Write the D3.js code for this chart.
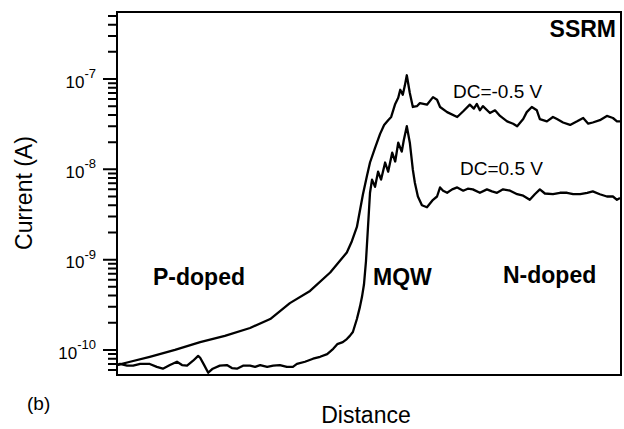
<!DOCTYPE html>
<html>
<head>
<meta charset="utf-8">
<script src="https://cdn.jsdelivr.net/npm/d3@7"></script>
<style>
    body { margin: 0; background: #fff; }
    text { font-family: "Liberation Sans", Arial, Helvetica, sans-serif; fill: #000; }
</style>
</head>
<body>
<script>
// DC=-0.5 V trace (distance in arbitrary units, current in A)
var distNeg = [0, 2.6, 6.5, 11.5, 16.5, 21.4, 26.4, 30.4, 34.3, 38.3, 42.3, 45.6, 46.6, 47.6, 48.8, 49.6,
    50.2, 51.2, 52.2, 53.0, 53.8, 54.4, 55.2, 55.8, 56.2, 56.7, 57.1, 57.5, 58.1, 58.7, 59.5, 60.1,
    61.5, 62.7, 63.5, 64.1, 65.5, 67.5, 68.7, 70.0, 70.8, 71.4, 72.0, 72.6, 74.0, 75.0, 76.0, 77.4,
    78.6, 79.4, 80.6, 81.3, 82.3, 83.3, 83.9, 85.3, 86.5, 87.3, 88.5, 89.9, 91.3, 92.5, 93.5, 94.4,
    95.8, 97.2, 98.4, 99.2, 99.8];
var currNeg = [6.8e-11, 7.4e-11, 8.4e-11, 1.0e-10, 1.22e-10, 1.43e-10, 1.75e-10, 2.2e-10, 3.3e-10, 4.5e-10,
    7.2e-10, 1.2e-9, 1.6e-9, 2.3e-9, 5.3e-9, 8.5e-9,
    1.19e-8, 1.73e-8, 2.47e-8, 3.1e-8, 3.5e-8, 3.8e-8, 5.3e-8, 6.2e-8, 7.6e-8, 6.7e-8, 8.4e-8, 1.1e-7,
    7.0e-8, 4.9e-8, 5.0e-8, 5.4e-8,
    5.2e-8, 6.3e-8, 5.9e-8, 4.9e-8, 4.3e-8, 3.8e-8, 4.4e-8, 5.2e-8, 4.7e-8, 5.3e-8, 4.5e-8, 5.0e-8,
    4.2e-8, 4.5e-8, 3.9e-8, 3.4e-8,
    3.2e-8, 3.0e-8, 3.6e-8, 4.3e-8, 4.9e-8, 4.5e-8, 3.6e-8, 3.4e-8, 3.8e-8, 3.6e-8, 3.3e-8, 3.1e-8,
    3.4e-8, 3.7e-8, 3.2e-8, 3.3e-8,
    3.5e-8, 3.9e-8, 3.7e-8, 3.4e-8, 3.4e-8];

// DC=0.5 V trace
var distPos = [0, 0.6, 2.0, 3.2, 4.6, 6.5, 7.9, 9.1, 10.5, 11.9, 12.9, 13.9, 15.1, 16.1, 16.5, 17.3,
    18.1, 19.0, 20.4, 21.8, 22.8, 23.8, 25.0, 26.4, 27.4, 28.4, 29.8, 31.0, 32.3, 33.7, 34.9, 35.7,
    37.3, 38.9, 40.3, 41.7, 42.9, 43.7, 44.8, 45.6, 46.2, 46.8, 47.6, 48.2, 48.6, 49.0, 49.4, 49.8,
    50.2, 50.6, 51.2, 51.8, 52.4, 53.2, 53.8, 54.6, 55.2, 55.8, 56.5, 56.9, 57.5, 58.1, 58.7, 59.1,
    59.7, 60.5, 61.5, 62.7, 63.5, 64.1, 64.7, 65.5, 66.5, 67.5, 68.7, 69.6, 70.6, 72.0, 73.4, 74.4,
    75.4, 76.6, 78.0, 79.4, 80.6, 81.9, 82.9, 83.9, 84.9, 86.5, 87.9, 89.3, 90.5, 91.9, 93.3, 94.4,
    95.8, 97.2, 98.4, 99.2, 99.8];
var currPos = [6.8e-11, 7.0e-11, 6.7e-11, 6.7e-11, 7.0e-11, 7.0e-11, 6.5e-11, 6.2e-11, 6.8e-11, 7.4e-11,
    6.8e-11, 6.7e-11, 7.6e-11, 8.6e-11, 8.2e-11, 6.8e-11,
    5.6e-11, 6.2e-11, 6.7e-11, 6.8e-11, 6.3e-11, 6.2e-11, 6.7e-11, 6.7e-11, 6.5e-11, 6.8e-11, 6.5e-11,
    6.7e-11, 6.8e-11, 6.5e-11, 6.5e-11, 7.0e-11,
    7.4e-11, 8.0e-11, 8.4e-11, 9.0e-11, 1.03e-10, 1.16e-10, 1.22e-10, 1.32e-10, 1.43e-10, 1.58e-10,
    2.2e-10, 3.0e-10, 3.85e-10, 5.3e-10, 9.6e-10, 2.3e-9,
    5.5e-9, 7.7e-9, 6.4e-9, 9.4e-9, 7.7e-9, 1.19e-8, 9.4e-9, 1.53e-8, 1.22e-8, 1.97e-8, 1.57e-8, 2.1e-8,
    3.0e-8, 1.97e-8, 9.9e-9, 7.1e-9,
    5.0e-9, 4.0e-9, 3.8e-9, 4.6e-9, 5.0e-9, 6.3e-9, 5.8e-9, 5.5e-9, 6.0e-9, 6.3e-9, 5.8e-9, 6.1e-9,
    6.0e-9, 5.5e-9, 6.0e-9, 5.7e-9,
    5.5e-9, 6.0e-9, 5.8e-9, 5.3e-9, 5.1e-9, 4.6e-9, 5.3e-9, 6.0e-9, 5.4e-9, 5.3e-9, 5.5e-9, 5.5e-9,
    5.3e-9, 5.3e-9, 5.5e-9, 5.7e-9,
    5.3e-9, 5.0e-9, 5.0e-9, 4.6e-9, 4.8e-9];

// y axis ticks
var majorTicks = [1e-10, 1e-9, 1e-8, 1e-7];
var majorExp = ["-10", "-9", "-8", "-7"];
var minorTicks = [6e-11, 7e-11, 8e-11, 9e-11,
    2e-10, 3e-10, 4e-10, 5e-10, 6e-10, 7e-10, 8e-10, 9e-10,
    2e-9, 3e-9, 4e-9, 5e-9, 6e-9, 7e-9, 8e-9, 9e-9,
    2e-8, 3e-8, 4e-8, 5e-8, 6e-8, 7e-8, 8e-8, 9e-8,
    2e-7, 3e-7, 4e-7, 5e-7];

var margin = { top: 12, right: 3, bottom: 54, left: 117 },
    W = 624, H = 429,
    width = W - margin.left - margin.right,
    height = H - margin.top - margin.bottom;

var svg = d3.select("body")
    .append("svg")
    .attr("width", W)
    .attr("height", H);

var g = svg.append("g")
    .attr("transform", "translate(" + margin.left + "," + margin.top + ")");

var x = d3.scaleLinear()
    .domain([0, 100])
    .range([0, width]);

var y = d3.scaleLog()
    .domain([5.28e-11, 5.52e-7])
    .range([height, 0]);

// frame and all y ticks as one path, tick positions from the log scale
var framePath = d3.path();
framePath.rect(0, 0, width, height);
minorTicks.forEach(function (v) {
    framePath.moveTo(-9, y(v));
    framePath.lineTo(0, y(v));
});
majorTicks.forEach(function (v) {
    framePath.moveTo(-14, y(v));
    framePath.lineTo(0, y(v));
});

g.append("path")
    .attr("class", "frame")
    .attr("d", framePath.toString())
    .attr("fill", "none")
    .attr("stroke", "#000")
    .attr("stroke-width", 2);

// labels like 10^-7
g.append("g")
    .attr("class", "y-labels")
    .selectAll("text")
    .data(majorTicks)
    .enter().append("text")
    .attr("x", -21)
    .attr("y", function (d) { return y(d); })
    .attr("dy", "0.52em")
    .attr("text-anchor", "end")
    .attr("font-size", 17)
    .each(function (d, i) {
        var t = d3.select(this);
        t.append("tspan").text("10");
        t.append("tspan")
            .attr("font-size", 13)
            .attr("dy", "-0.75em")
            .text(majorExp[i]);
    });

var lineGen = d3.line()
    .x(function (d) { return x(d[0]); })
    .y(function (d) { return y(d[1]); });

var series = [d3.zip(distNeg, currNeg), d3.zip(distPos, currPos)];

g.selectAll("path.trace")
    .data(series)
    .enter().append("path")
    .attr("class", "trace")
    .attr("d", lineGen)
    .attr("fill", "none")
    .attr("stroke", "#000")
    .attr("stroke-width", 2.3)
    .attr("stroke-linejoin", "round");

// axis titles
svg.append("text")
    .attr("transform", "translate(32,193) rotate(-90)")
    .attr("text-anchor", "middle")
    .attr("font-size", 23)
    .text("Current (A)");

svg.append("text")
    .attr("x", 366)
    .attr("y", 423)
    .attr("text-anchor", "middle")
    .attr("font-size", 23)
    .text("Distance");

svg.append("text")
    .attr("x", 27)
    .attr("y", 410)
    .attr("font-size", 19)
    .text("(b)");

var notes = [
    { t: "SSRM", x: 616, y: 37, bold: true, anchor: "end" },
    { t: "DC=-0.5 V", x: 453, y: 98, bold: false, anchor: "start" },
    { t: "DC=0.5 V", x: 460, y: 175, bold: false, anchor: "start" },
    { t: "P-doped", x: 153, y: 285, bold: true, anchor: "start" },
    { t: "MQW", x: 373, y: 285, bold: true, anchor: "start" },
    { t: "N-doped", x: 503, y: 283, bold: true, anchor: "start" }
];

svg.selectAll("text.note")
    .data(notes)
    .enter().append("text")
    .attr("class", "note")
    .attr("x", function (d) { return d.x; })
    .attr("y", function (d) { return d.y; })
    .attr("text-anchor", function (d) { return d.anchor; })
    .attr("font-size", function (d) { return d.bold ? 23 : 19; })
    .attr("font-weight", function (d) { return d.bold ? "bold" : "normal"; })
    .text(function (d) { return d.t; });
</script>
</body>
</html>
